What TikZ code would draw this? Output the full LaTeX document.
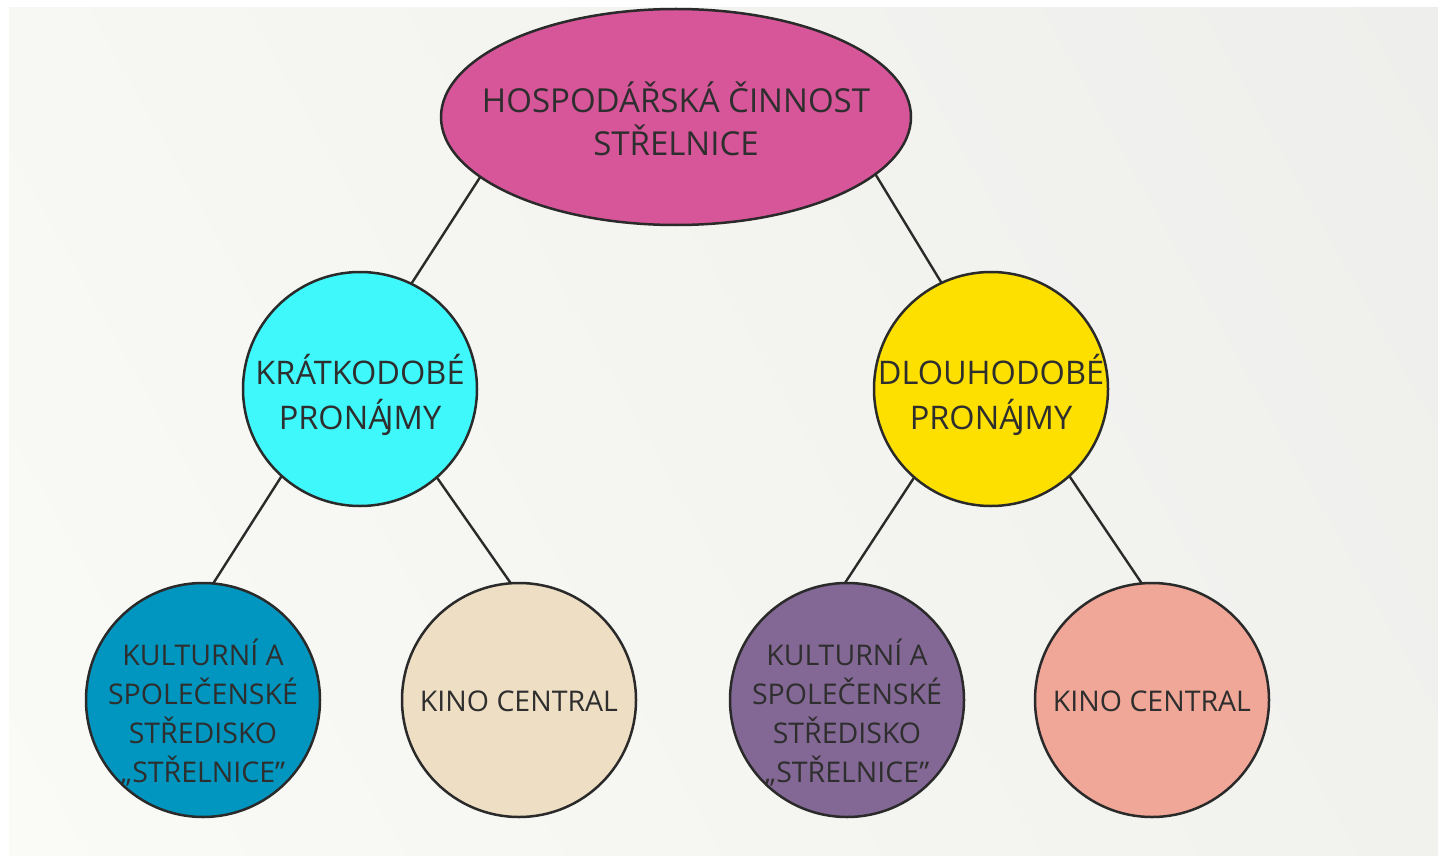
\documentclass[tikz,border=0pt]{standalone}
\usepackage{fontspec}
\setmainfont{Open Sans}
\usetikzlibrary{shapes.geometric,shadings}
\definecolor{inkc}{HTML}{2A2A2A}
\definecolor{txtc}{HTML}{2E2E2E}
\definecolor{cpink}{HTML}{D75699}
\definecolor{ccyan}{HTML}{3FF8FB}
\definecolor{cyellow}{HTML}{FDDF00}
\definecolor{cblue}{HTML}{0096C0}
\definecolor{cbeige}{HTML}{EDDEC4}
\definecolor{cpurple}{HTML}{836895}
\definecolor{csalmon}{HTML}{F0A797}
\definecolor{bgA}{HTML}{F7F7F3}
\definecolor{bgB}{HTML}{FAFAF6}
\definecolor{bgC}{HTML}{EEEEEC}
\definecolor{bgD}{HTML}{F1F1EE}
\tikzset{
  blob/.style={circle,draw=inkc,line width=2.5pt,minimum size=234pt,inner sep=0pt,outer sep=0pt},
  lbl/.style={align=center,text=txtc,inner sep=0pt},
  toptext/.style={lbl,font=\fontsize{33}{43}\selectfont},
  midtext/.style={lbl,font=\fontsize{32.5}{45}\selectfont},
  smalltext/.style={lbl,font=\fontsize{28.5}{39}\selectfont},
  link/.style={draw=inkc,line width=2.4pt}
}
\newcommand{\Jk}{\kern-0.12em J}
\begin{document}
\begin{tikzpicture}[x=1pt,y=-1pt]
\useasboundingbox (0,0) rectangle (1438,856);
\shade[upper left=bgA,lower left=bgB,upper right=bgC,lower right=bgD] (9,8) rectangle (1438,856);
\node[ellipse,draw=inkc,line width=2.5pt,fill=cpink,minimum width=470pt,minimum height=216pt,inner sep=0pt,outer sep=0pt] (top) at (676,117) {};
\node[blob,fill=ccyan] (kr) at (360,389) {};
\node[blob,fill=cyellow] (dl) at (991,389) {};
\node[blob,fill=cblue] (k1) at (203,700) {};
\node[blob,fill=cbeige] (c1) at (519,700) {};
\node[blob,fill=cpurple] (k2) at (847,700) {};
\node[blob,fill=csalmon] (c2) at (1152,700) {};
\node[toptext] (topt) at (676,119) {HOSPODÁŘSKÁ ČINNOST\\STŘELNICE};
\node[midtext] (krt) at (360,395) {KRÁTKODOBÉ\\PRONÁ\Jk MY};
\node[midtext] (dlt) at (991,395) {DLOUHODOBÉ\\PRONÁ\Jk MY};
\node[smalltext] (k1t) at (203,713) {KULTURNÍ A\\SPOLEČENSKÉ\\STŘEDISKO\\„STŘELNICE”};
\node[smalltext] (c1t) at (519,701) {KINO CENTRAL};
\node[smalltext] (k2t) at (847,713) {KULTURNÍ A\\SPOLEČENSKÉ\\STŘEDISKO\\„STŘELNICE”};
\node[smalltext] (c2t) at (1152,701) {KINO CENTRAL};
\draw[link] (top.197.5) -- (kr.64);
\draw[link] (top.344) -- (dl.115);
\draw[link] (kr.228.8) -- (k1.85.6);
\draw[link] (kr.311.9) -- (c1.94.9);
\draw[link] (dl.229) -- (k2.91);
\draw[link] (dl.312.3) -- (c2.95.4);
\end{tikzpicture}
\end{document}
